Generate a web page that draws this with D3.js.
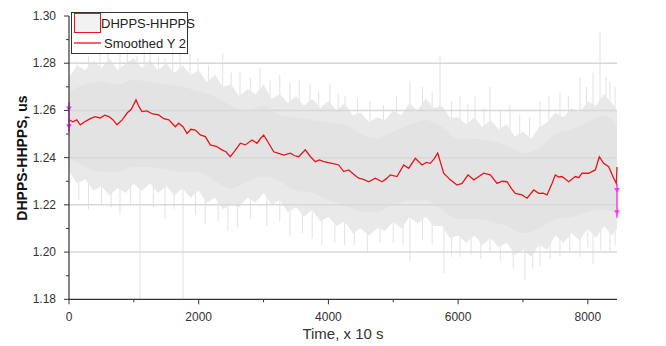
<!DOCTYPE html>
<html><head><meta charset="utf-8">
<script src="https://cdn.jsdelivr.net/npm/d3@7"></script>
<style>
html,body{margin:0;padding:0;background:#fff;}
svg{display:block;}
text{font-family:"Liberation Sans Narrow","Arial Narrow","Liberation Sans",sans-serif;}
</style></head>
<body>
<svg id="c" width="666" height="346"></svg>
<script>
// ---- data ----
const smoothT = [0,60,120,174,260,330,401,480,550,617,680,740,820,900,960,1033,1080,1126,1200,1290,1383,1460,1540,1639,1692,1760,1820,1880,1948,2025,2102,2179,2270,2359,2420,2487,2560,2642,2719,2822,2899,2950,3002,3079,3157,3230,3311,3413,3480,3542,3644,3720,3798,3860,3928,4055,4159,4236,4313,4390,4467,4540,4621,4723,4827,4890,4955,5058,5161,5238,5340,5444,5510,5571,5630,5685,5778,5880,5983,6060,6153,6241,6320,6395,6497,6600,6680,6754,6820,6882,6985,7063,7166,7243,7310,7371,7448,7499,7550,7602,7706,7807,7860,7911,8014,8070,8116,8177,8245,8322,8399,8440,8450];
const smoothY = [1.2560,1.2552,1.2560,1.2539,1.2555,1.2565,1.2574,1.2568,1.2580,1.2574,1.2560,1.2539,1.2560,1.2590,1.2605,1.2645,1.2615,1.2595,1.2598,1.2585,1.2581,1.2565,1.2560,1.2531,1.2546,1.2530,1.2503,1.2520,1.2517,1.2496,1.2489,1.2454,1.2448,1.2433,1.2425,1.2404,1.2430,1.2461,1.2454,1.2475,1.2461,1.2480,1.2496,1.2461,1.2425,1.2418,1.2411,1.2419,1.2408,1.2404,1.2433,1.2405,1.2383,1.2390,1.2383,1.2376,1.2369,1.2341,1.2348,1.2330,1.2313,1.2308,1.2298,1.2313,1.2298,1.2310,1.2327,1.2320,1.2369,1.2355,1.2397,1.2369,1.2380,1.2376,1.2395,1.2419,1.2334,1.2306,1.2284,1.2291,1.2327,1.2306,1.2320,1.2334,1.2327,1.2291,1.2300,1.2298,1.2270,1.2249,1.2242,1.2228,1.2263,1.2249,1.2250,1.2242,1.2291,1.2327,1.2318,1.2320,1.2298,1.2320,1.2315,1.2334,1.2334,1.2342,1.2348,1.2404,1.2376,1.2362,1.2313,1.2291,1.2360];

const bandT  = [0,125,250,375,500,625,750,875,1000,1125,1250,1375,1500,1625,1750,1875,2000,2125,2250,2375,2500,2625,2750,2875,3000,3125,3250,3375,3500,3625,3750,3875,4000,4125,4250,4375,4500,4625,4750,4875,5000,5125,5250,5375,5500,5625,5750,5875,6000,6125,6250,6375,6500,6625,6750,6875,7000,7125,7250,7375,7500,7625,7750,7875,8000,8125,8250,8375,8450];
const bandHi = [1.274,1.279,1.277,1.281,1.278,1.282,1.277,1.280,1.282,1.278,1.281,1.277,1.280,1.276,1.279,1.275,1.277,1.272,1.275,1.270,1.271,1.266,1.269,1.267,1.271,1.265,1.267,1.263,1.266,1.262,1.265,1.261,1.264,1.260,1.263,1.258,1.259,1.255,1.257,1.256,1.260,1.258,1.263,1.260,1.265,1.261,1.262,1.257,1.257,1.254,1.257,1.253,1.256,1.252,1.254,1.249,1.251,1.248,1.253,1.255,1.259,1.257,1.261,1.259,1.264,1.262,1.267,1.263,1.260];
const bandLo = [1.234,1.229,1.231,1.226,1.228,1.224,1.227,1.225,1.229,1.226,1.229,1.225,1.228,1.224,1.227,1.223,1.226,1.221,1.223,1.218,1.220,1.219,1.223,1.221,1.225,1.220,1.222,1.217,1.219,1.215,1.218,1.213,1.215,1.211,1.213,1.208,1.210,1.207,1.210,1.209,1.213,1.210,1.215,1.212,1.215,1.211,1.211,1.206,1.207,1.204,1.207,1.203,1.206,1.202,1.204,1.199,1.201,1.198,1.203,1.201,1.207,1.204,1.208,1.205,1.210,1.206,1.211,1.207,1.210];

const coreT  = [0,250,500,750,1000,1250,1500,1750,2000,2250,2500,2750,3000,3250,3500,3750,4000,4250,4500,4750,5000,5250,5500,5750,6000,6250,6500,6750,7000,7250,7500,7750,8000,8250,8450];
const coreHi = [1.268,1.271,1.272,1.271,1.273,1.272,1.271,1.270,1.268,1.266,1.262,1.260,1.262,1.258,1.257,1.256,1.255,1.254,1.250,1.248,1.251,1.254,1.256,1.253,1.248,1.248,1.247,1.245,1.242,1.244,1.250,1.252,1.255,1.258,1.254];
const coreLo = [1.240,1.236,1.234,1.234,1.236,1.236,1.235,1.234,1.234,1.230,1.227,1.230,1.232,1.230,1.226,1.225,1.222,1.220,1.217,1.217,1.220,1.222,1.222,1.218,1.214,1.214,1.213,1.211,1.208,1.210,1.214,1.215,1.217,1.218,1.216];

const spikeUpT = [120,300,478,600,786,900,1049,1160,1249,1380,1480,1600,1712,1866,1990,2150,2370,2500,2637,2800,2945,3100,3250,3408,3550,3716,3850,4025,4150,4256,4450,4641,4850,5050,5258,5450,5600,5721,5900,6030,6150,6261,6400,6492,6650,6800,6950,7100,7263,7400,7571,7700,7880,7980,8080,8188,8280,8342,8420];
const spikeUpY = [1.281,1.283,1.285,1.284,1.284,1.286,1.283,1.285,1.286,1.283,1.282,1.287,1.285,1.284,1.282,1.279,1.284,1.276,1.276,1.274,1.278,1.273,1.275,1.272,1.273,1.271,1.268,1.271,1.267,1.266,1.265,1.264,1.262,1.266,1.272,1.270,1.268,1.2835,1.264,1.266,1.263,1.266,1.261,1.270,1.260,1.262,1.258,1.257,1.264,1.266,1.268,1.266,1.274,1.270,1.276,1.293,1.274,1.272,1.270];
const spikeDnT = [150,300,500,650,786,950,1095,1300,1480,1620,1758,1950,2100,2300,2450,2600,2800,3050,3250,3408,3600,3750,3900,4100,4250,4400,4600,4796,5000,5150,5258,5450,5600,5780,5900,6030,6200,6350,6492,6650,6850,7032,7150,7263,7420,7571,7720,7880,8000,8080,8200,8342,8420];
const spikeDnY = [1.222,1.218,1.220,1.219,1.216,1.220,1.180,1.219,1.214,1.218,1.180,1.216,1.212,1.213,1.209,1.210,1.214,1.211,1.213,1.207,1.208,1.206,1.203,1.204,1.203,1.203,1.200,1.204,1.204,1.203,1.196,1.205,1.203,1.191,1.198,1.198,1.199,1.197,1.200,1.196,1.193,1.188,1.193,1.194,1.197,1.198,1.200,1.198,1.202,1.195,1.201,1.200,1.203];

const markT  = [0,8450];
const markHi = [1.2635,1.2290];
const markLo = [1.2510,1.2145];

const yTicks = [1.18,1.20,1.22,1.24,1.26,1.28,1.30];
const xTicks = [0,2000,4000,6000,8000];
const seriesNames = ["DHPPS-HHPPS","Smoothed Y 2"];

// ---- drawing ----
const svg = d3.select("#c");
const L=69, R=617, T=16, B=299.3;
const x = d3.scaleLinear().domain([0,8450]).range([L,R]);
const y = d3.scaleLinear().domain([1.18,1.30]).range([B,T]);

const band = bandT.map((t,i)=>({t,hi:bandHi[i],lo:bandLo[i]}));
const core = coreT.map((t,i)=>({t,hi:coreHi[i],lo:coreLo[i]}));
const spikes = spikeUpT.map((t,i)=>({t,v:spikeUpY[i]})).concat(spikeDnT.map((t,i)=>({t,v:spikeDnY[i]})));
const smooth = smoothT.map((t,i)=>({t,v:smoothY[i]}));
const center = d3.scaleLinear().domain(smoothT).range(smoothY);
const area = d3.area().x(d=>x(d.t)).y0(d=>y(d.lo)).y1(d=>y(d.hi));

// raw noisy signal (grey)
const g = svg.append("g");
spikes.forEach(d=>{
  g.append("line").attr("x1",x(d.t)).attr("x2",x(d.t))
    .attr("y1",y(center(d.t))).attr("y2",y(d.v))
    .attr("stroke","#e2e2e2").attr("stroke-width",1);
});
g.append("path").datum(band).attr("d",area).attr("fill","#e9e9e9");
g.append("path").datum(core).attr("d",area.curve(d3.curveMonotoneX)).attr("fill","#e3e3e3");

// gridlines
[1.20,1.22,1.24,1.26,1.28].forEach(v=>{
  svg.append("line").attr("x1",L).attr("x2",R).attr("y1",y(v)).attr("y2",y(v))
    .attr("stroke","#d8d8d8").attr("stroke-width",1.5);
});

// smoothed line
svg.append("path").datum(smooth)
  .attr("d",d3.line().x(d=>x(d.t)).y(d=>y(d.v)))
  .attr("fill","none").attr("stroke","#e8141c").attr("stroke-width",1.3);

// magenta range markers
markT.forEach((t,i)=>{
  svg.append("line").attr("x1",x(t)).attr("x2",x(t)).attr("y1",y(markHi[i])).attr("y2",y(markLo[i]))
    .attr("stroke","#ff33ff").attr("stroke-width",1.5);
  [markHi[i]-0.0025, markLo[i]+0.0025].forEach(v=>{
    svg.append("path").attr("d",d3.symbol(d3.symbolTriangle,14)())
      .attr("transform",`translate(${x(t)},${y(v)}) rotate(180)`).attr("fill","#ff33ff");
  });
});

// axes
const axisCol="#333";
svg.append("line").attr("x1",L).attr("x2",L).attr("y1",T).attr("y2",B).attr("stroke",axisCol).attr("stroke-width",1.2);
svg.append("line").attr("x1",L).attr("x2",R).attr("y1",B).attr("y2",B).attr("stroke",axisCol).attr("stroke-width",1.2);
yTicks.forEach(v=>{
  svg.append("line").attr("x1",L-5).attr("x2",L).attr("y1",y(v)).attr("y2",y(v)).attr("stroke",axisCol);
  svg.append("text").attr("x",56).attr("y",y(v)+4).attr("text-anchor","end")
    .attr("font-size",12).attr("fill","#333").text(v.toFixed(2));
});
for(let i=0;i<yTicks.length-1;i++){
  const v=(yTicks[i]+yTicks[i+1])/2;
  svg.append("line").attr("x1",L-3).attr("x2",L).attr("y1",y(v)).attr("y2",y(v)).attr("stroke",axisCol);
}
xTicks.forEach(v=>{
  svg.append("line").attr("x1",x(v)).attr("x2",x(v)).attr("y1",B).attr("y2",B+5).attr("stroke",axisCol);
  svg.append("text").attr("x",x(v)).attr("y",B+22).attr("text-anchor","middle")
    .attr("font-size",12).attr("fill","#333").text(v);
});
[1000,3000,5000,7000].forEach(v=>{
  svg.append("line").attr("x1",x(v)).attr("x2",x(v)).attr("y1",B).attr("y2",B+3).attr("stroke",axisCol);
});

svg.append("text").attr("x",343).attr("y",339).attr("text-anchor","middle")
  .attr("font-size",15).attr("fill","#333").text("Time, x 10 s");
svg.append("text").attr("transform","translate(27,158) rotate(-90)").attr("text-anchor","middle")
  .attr("font-size",14).attr("font-weight","bold").attr("fill","#111")
  .style("font-family","'Liberation Sans',Arial,sans-serif").text("DHPPS-HHPPS, us");

// legend
const lg = svg.append("g");
lg.append("rect").attr("x",71.5).attr("y",12.5).attr("width",116).attr("height",41)
  .attr("fill","#fff").attr("fill-opacity",0.6).attr("stroke","#333").attr("stroke-width",1);
lg.append("rect").attr("x",74.5).attr("y",13.5).attr("width",26).attr("height",19)
  .attr("fill","#f2f2f2").attr("stroke","#e8141c").attr("stroke-width",1);
lg.append("line").attr("x1",74).attr("x2",101).attr("y1",43).attr("y2",43)
  .attr("stroke","#e8141c").attr("stroke-width",1.3);
lg.append("text").attr("x",101).attr("y",28).attr("font-size",13).attr("fill","#222").text(seriesNames[0]);
lg.append("text").attr("x",104).attr("y",48).attr("font-size",13).attr("fill","#222").text(seriesNames[1]);
</script>
</body></html>
